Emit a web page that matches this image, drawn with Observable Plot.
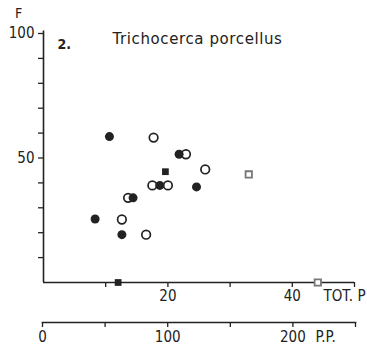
<!DOCTYPE html>
<html>
<head>
<meta charset="utf-8">
<script src="https://cdn.jsdelivr.net/npm/d3@7"></script>
<script src="https://cdn.jsdelivr.net/npm/@observablehq/plot@0.6"></script>
<style>
  html, body { margin: 0; padding: 0; background: #fff; }
  #chart { position: relative; width: 367px; height: 354px; overflow: hidden; }
  #chart svg { position: absolute; left: 0; top: 0; overflow: visible; }
</style>
</head>
<body>
<div id="chart"></div>
<script>
// TOT.P (x) vs F (y)
const filledCircles = [
  [10.6, 58.6], [21.8, 51.5], [18.7, 39.0], [24.6, 38.4],
  [14.4, 34.0], [12.6, 19.2], [8.3, 25.5]
];
const openCircles = [
  [17.7, 58.2], [22.9, 51.5], [26.0, 45.4], [17.5, 39.0],
  [20.0, 39.0], [13.6, 34.0], [12.6, 25.3], [16.5, 19.2]
];
const filledSquares = [[19.6, 44.5], [12.0, 0]];
const openSquares = [[33.0, 43.4], [44.1, 0]];

const yTicks = [10, 20, 30, 40, 50, 60, 70, 80, 90, 100];
const yTickLabels = [50, 100];
const xTicks = [10, 20, 30, 40, 50];
const xTickLabels = [20, 40];
const ppTicks = [0, 50, 100, 150, 200, 250];
const ppTickLabels = [0, 100, 200];

const titleNumber = "2.";
const titleText = "Trichocerca porcellus";
const yLabel = "F";
const xLabel = "TOT. P";
const ppLabel = "P.P.";

const ink = "#222";
const font = "'Liberation Sans Narrow', 'DejaVu Sans Condensed', 'Liberation Sans', sans-serif";

const main = Plot.plot({
  width: 367,
  height: 354,
  marginLeft: 43,
  marginRight: 13,
  marginTop: 33,
  marginBottom: 72,
  style: { background: "transparent", fontFamily: font, fontSize: "15px", color: ink, overflow: "visible" },
  x: { domain: [0, 50] },
  y: { domain: [0, 100] },
  marks: [
    Plot.axisY({ ticks: yTicks, tickFormat: d => yTickLabels.includes(d) ? String(d) : "", tickSize: 5, tickPadding: 4, label: null, stroke: ink, strokeWidth: 1.3, fontSize: 15 }),
    Plot.axisX({ ticks: xTicks, tickFormat: d => xTickLabels.includes(d) ? String(d) : "", tickSize: 5, tickPadding: 3, label: null, stroke: ink, strokeWidth: 1.3, fontSize: 15 }),
    Plot.ruleX([0], { y1: 0, y2: 101, stroke: ink, strokeWidth: 1.6 }),
    Plot.ruleY([0], { x1: 0, x2: 50, stroke: ink, strokeWidth: 1.6 }),
    Plot.dot(openCircles, { x: d => d[0], y: d => d[1], r: 4.3, fill: "white", stroke: ink, strokeWidth: 1.7 }),
    Plot.dot(filledCircles, { x: d => d[0], y: d => d[1], r: 4.5, fill: ink, stroke: "none" }),
    Plot.dot(filledSquares, { x: d => d[0], y: d => d[1], symbol: "square", r: 3.8, fill: ink, stroke: "none" }),
    Plot.dot(openSquares, { x: d => d[0], y: d => d[1], symbol: "square", r: 3.6, fill: "white", stroke: "#777", strokeWidth: 1.8 }),
    Plot.text([titleNumber], { frameAnchor: "top-left", dx: 14, dy: 11, textAnchor: "start", lineAnchor: "middle", fontSize: 14, fontWeight: "bold", fill: ink, fontFamily: "'DejaVu Sans Condensed', 'DejaVu Sans', sans-serif" }),
    Plot.text([titleText], { frameAnchor: "top-left", dx: 69, dy: 6, textAnchor: "start", lineAnchor: "middle", fontSize: 15, fill: ink, fontFamily: "'DejaVu Sans', sans-serif" }),
    Plot.text([yLabel], { frameAnchor: "top-left", dx: -25, dy: -20, textAnchor: "middle", lineAnchor: "middle", fontSize: 14, fill: ink }),
    Plot.text([xLabel], { frameAnchor: "bottom-right", dx: -31, dy: 14, textAnchor: "start", lineAnchor: "middle", fontSize: 15, fill: ink })
  ]
});

// widen the title's letter spacing like the lettering in the reference
d3.select(main).selectAll("text").filter(function () { return this.textContent === titleText; })
  .style("letter-spacing", "0.6px");

const pp = Plot.plot({
  width: 367,
  height: 354,
  marginLeft: 42,
  marginRight: 12,
  marginTop: 20,
  marginBottom: 32,
  style: { background: "transparent", fontFamily: font, fontSize: "15px", color: ink, overflow: "visible" },
  x: { domain: [0, 250] },
  marks: [
    Plot.frame({ anchor: "bottom", stroke: ink, strokeWidth: 1.6 }),
    Plot.axisX({ ticks: ppTicks, tickFormat: d => ppTickLabels.includes(d) ? String(d) : "", tickSize: 5, tickPadding: 4, label: null, stroke: ink, strokeWidth: 1.3, fontSize: 15 }),
    Plot.text([ppLabel], { frameAnchor: "bottom-right", dx: -40, dy: 15, textAnchor: "start", lineAnchor: "middle", fontSize: 15, fill: ink })
  ]
});

const chart = document.getElementById("chart");
chart.appendChild(main);
chart.appendChild(pp);
</script>
</body>
</html>
